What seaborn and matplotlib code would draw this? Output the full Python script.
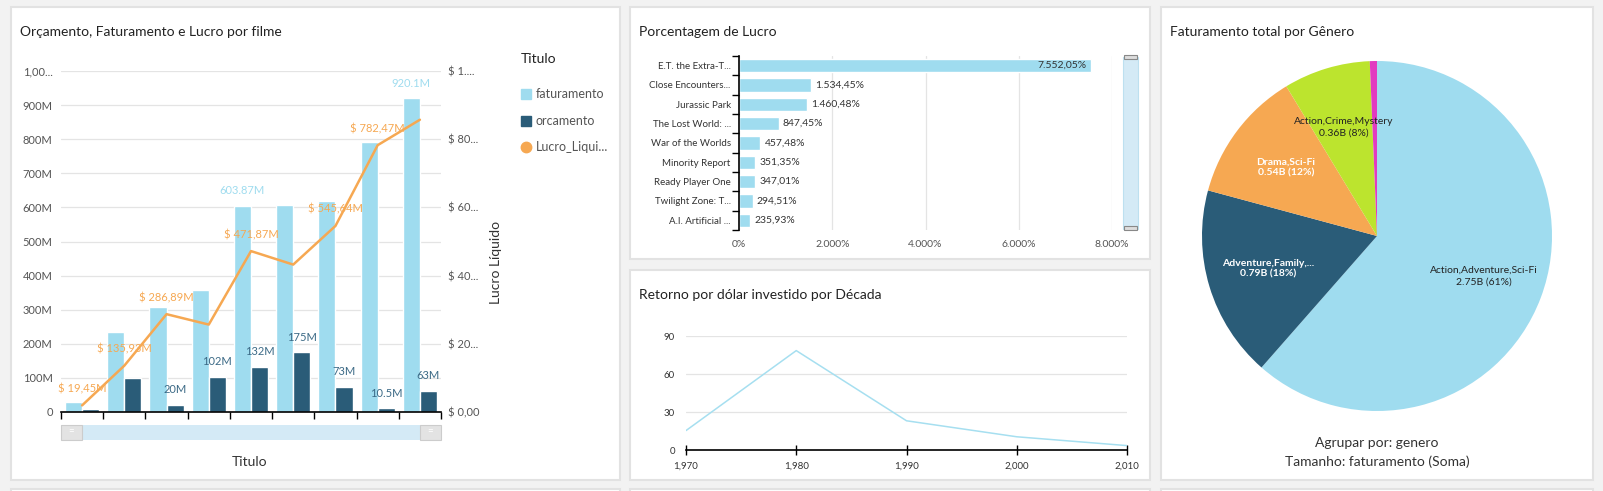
import matplotlib.pyplot as plt
import seaborn as sns
import numpy as np
import pandas as pd
from matplotlib.patches import Rectangle

W, H = 1603, 491

# --- dados (valores em milhoes de dolares) ---
titulos = ['Twilight Zone: The Movie', 'A.I. Artificial Intelligence',
           'Close Encounters of the Third Kind', 'Minority Report',
           'War of the Worlds', 'Ready Player One',
           'The Lost World: Jurassic Park', 'E.T. the Extra-Terrestrial',
           'Jurassic Park']
faturamento = [29.45, 235.93, 306.89, 358.37, 603.87, 607.27, 618.64, 792.97, 920.1]
orcamento = [10, 100, 20, 102, 132, 175, 73, 10.5, 63]
lucro_liquido = [19.45, 135.93, 286.89, 256.37, 471.87, 432.27, 545.64, 782.47, 857.1]
# rotulos que o painel mostra (os outros ficam ocultos por sobreposicao)
mostra_fat = [4, 8]
mostra_orc = [2, 3, 4, 5, 6, 7, 8]
mostra_lucro = [0, 1, 2, 4, 6, 7]

filmes_pct = ['E.T. the Extra-T...', 'Close Encounters...', 'Jurassic Park',
              'The Lost World: ...', 'War of the Worlds', 'Minority Report',
              'Ready Player One', 'Twilight Zone: T...', 'A.I. Artificial ...']
pct_lucro = [7552.05, 1534.45, 1460.48, 847.45, 457.48, 351.35, 347.01, 294.51, 235.93]

decadas = [1970, 1980, 1990, 2000, 2010]
retorno = [15.34, 78.47, 23.07, 10.44, 3.47]

generos = ['Action,Adventure,Sci-Fi', 'Adventure,Family,...', 'Drama,Sci-Fi',
           'Action,Crime,Mystery', 'Fantasy,Horror,Sci-Fi']
fat_genero = [2749.88, 792.97, 542.82, 358.37, 29.45]

C_LIGHT = '#9fdcef'
C_DARK = '#2a5c78'
C_ORANGE = '#f6a852'
C_LIME = '#bce42e'
C_PINK = '#e23bc0'
TXT = '#222222'
TICK = '#555555'

sns.set_theme(style='white')
plt.rcParams['font.family'] = ['Lato', 'DejaVu Sans']


def rect(x0, y0, x1, y1):
    return [x0 / W, 1 - y1 / H, (x1 - x0) / W, (y1 - y0) / H]


def fig_rect(fig, x0, y0, x1, y1, **kw):
    fig.add_artist(Rectangle((x0 / W, 1 - y1 / H), (x1 - x0) / W, (y1 - y0) / H,
                             transform=fig.transFigure, **kw))


def fig_text(fig, x, y, s, **kw):
    fig.text(x / W, 1 - y / H, s, **kw)


def br(v, dec=2):
    s = f"{v:,.{dec}f}"
    return s.replace(',', '#').replace('.', ',').replace('#', '.')


fig = plt.figure(figsize=(W / 100, H / 100), dpi=100)
fig.patch.set_facecolor('#f2f2f2')

# paineis
for p in [(11, 7, 620, 480), (630, 7, 1150, 259), (630, 270, 1150, 480),
          (1161, 7, 1593, 480), (11, 489, 620, 530), (630, 489, 1150, 530),
          (1161, 489, 1593, 530)]:
    fig_rect(fig, *p, facecolor='white', edgecolor='#e2e2e2', lw=1.5, zorder=0)

# ---------------- Painel 1: barras + linha ----------------
ax1 = fig.add_axes(rect(61, 71, 441, 412))
df1 = pd.DataFrame({'Titulo': titulos * 2,
                    'medida': ['faturamento'] * 9 + ['orcamento'] * 9,
                    'valor': faturamento + orcamento})
sns.barplot(data=df1, x='Titulo', y='valor', hue='medida', order=titulos,
            palette=[C_LIGHT, C_DARK], saturation=1, width=0.81, ax=ax1, legend=False)
ax1.set_xlim(-0.5, 8.5)
ax1.set_ylim(0, 1000)
ax1.set_yticks(range(0, 1001, 100))
ax1.set_yticklabels(['0'] + [f'{v}M' for v in range(100, 1000, 100)] + ['1,00...'])
ax1.set_xticks(np.arange(-0.5, 9, 1))
ax1.set_xticklabels([])
ax1.set_xlabel('')
ax1.set_ylabel('')
ax1.grid(axis='y', color='#e4e4e4', lw=0.9)
ax1.set_axisbelow(True)
for s in ['top', 'left', 'right']:
    ax1.spines[s].set_visible(False)
ax1.spines['bottom'].set_color('black')
ax1.spines['bottom'].set_linewidth(1.2)
ax1.tick_params(axis='x', direction='out', length=5, width=1, color='black', bottom=True)
ax1.tick_params(axis='y', length=0, pad=6, labelsize=8, labelcolor=TICK)

ax2 = ax1.twinx()
sns.lineplot(x=np.arange(9), y=lucro_liquido, ax=ax2, color=C_ORANGE, lw=1.8)
ax2.set_ylim(0, 1000)
ax2.set_xlim(-0.5, 8.5)
ax2.set_yticks(range(0, 1001, 200))
ax2.set_yticklabels(['$ 0,00', '$ 20...', '$ 40...', '$ 60...', '$ 80...', '$ 1....'])
ax2.tick_params(axis='y', length=0, pad=5, labelsize=8, labelcolor=TICK)
for s in ['top', 'left', 'right', 'bottom']:
    ax2.spines[s].set_visible(False)
ax2.set_ylabel('')

bw = 0.81 / 2
for i in mostra_fat:
    ax1.annotate(f'{faturamento[i]:g}M', (i - bw / 2, faturamento[i]), xytext=(0, 7),
                 textcoords='offset points', ha='center', va='bottom', fontsize=8, color=C_LIGHT)
for i in mostra_orc:
    ax1.annotate(f'{orcamento[i]:g}M', (i + bw / 2, orcamento[i]), xytext=(0, 7),
                 textcoords='offset points', ha='center', va='bottom', fontsize=8, color='#3c6a86')
for i in mostra_lucro:
    ax2.annotate(f'$ {br(lucro_liquido[i])}M', (i, lucro_liquido[i]), xytext=(0, 8),
                 textcoords='offset points', ha='center', va='bottom', fontsize=8, color=C_ORANGE)

fig_text(fig, 20, 32, 'Orçamento, Faturamento e Lucro por filme', fontsize=10, color=TXT, va='center')
fig_text(fig, 250, 462, 'Titulo', fontsize=10, color='#333333', ha='center', va='center')
fig_text(fig, 496, 262, 'Lucro Líquido', fontsize=10, color='#333333', ha='center', va='center',
         rotation=90)

# barra de rolagem
fig_rect(fig, 61, 425, 441, 440, facecolor='#d4eaf6', edgecolor='none')
for x0 in (61, 420):
    fig_rect(fig, x0, 425, x0 + 21, 440, facecolor='#e3e3e3', edgecolor='#cccccc', lw=0.8)
    fig_text(fig, x0 + 10.5, 432, '=', fontsize=7, color='white', ha='center', va='center')

# legenda
fig_text(fig, 521, 59, 'Titulo', fontsize=10, color=TXT, va='center')
leg_items = [('faturamento', C_LIGHT, 's', 94), ('orcamento', C_DARK, 's', 121),
             ('Lucro_Liqui...', C_ORANGE, 'o', 147)]
for nome, cor, mk, y in leg_items:
    fig.lines.append(plt.Line2D([526 / W], [1 - y / H], marker=mk, ms=7.5, color=cor, ls='',
                                transform=fig.transFigure))
    fig_text(fig, 536, y, nome, fontsize=9, color=TICK, va='center')

# ---------------- Painel 2: porcentagem de lucro ----------------
ax3 = fig.add_axes(rect(739, 56, 1112, 230))
sns.barplot(x=pct_lucro, y=filmes_pct, orient='h', color=C_LIGHT, saturation=1,
            width=0.68, ax=ax3)
ax3.set_xlim(0, 8000)
ax3.set_ylim(8.5, -0.5)
ax3.set_xticks(range(0, 8001, 2000))
ax3.set_xticklabels(['0%'] + [f'{br(v, 0)}%' for v in range(2000, 8001, 2000)])
ax3.set_yticks(np.arange(-0.5, 9, 1), minor=True)
ax3.grid(axis='x', color='#e4e4e4', lw=0.9)
ax3.set_axisbelow(True)
for s in ['top', 'right', 'bottom']:
    ax3.spines[s].set_visible(False)
ax3.spines['left'].set_color('black')
ax3.spines['left'].set_linewidth(1.2)
ax3.tick_params(axis='y', which='major', length=0, pad=6, labelsize=7, labelcolor='#333333')
ax3.tick_params(axis='y', which='minor', length=5, width=1, color='black', left=True)
ax3.tick_params(axis='x', length=0, pad=7, labelsize=7.5, labelcolor=TICK)
for i, v in enumerate(pct_lucro):
    if v > 6000:
        ax3.annotate(f'{br(v)}%', (v, i), xytext=(-3, 0), textcoords='offset points',
                     ha='right', va='center', fontsize=7.5, color='#333333')
    else:
        ax3.annotate(f'{br(v)}%', (v, i), xytext=(3, 0), textcoords='offset points',
                     ha='left', va='center', fontsize=7.5, color='#333333')
fig_text(fig, 639, 32, 'Porcentagem de Lucro', fontsize=10, color=TXT, va='center')

fig_rect(fig, 1123, 57, 1138, 229, facecolor='#d4eaf6', edgecolor='#bde0f0', lw=0.8)
for y0 in (55, 226):
    fig_rect(fig, 1124, y0, 1137, y0 + 4, facecolor='#dddddd', edgecolor='#888888', lw=0.8)

# ---------------- Painel 3: retorno por decada ----------------
ax4 = fig.add_axes(rect(686, 336, 1127, 450))
sns.lineplot(x=decadas, y=retorno, color='#a6dff0', lw=1.1, ax=ax4)
ax4.set_xlim(1970, 2010)
ax4.set_ylim(0, 90)
ax4.set_yticks([0, 30, 60, 90])
ax4.set_xticks(decadas)
ax4.set_xticklabels([f'{d:,}' for d in decadas])
ax4.grid(axis='y', color='#e4e4e4', lw=0.9)
ax4.set_axisbelow(True)
for s in ['top', 'left', 'right']:
    ax4.spines[s].set_visible(False)
ax4.spines['bottom'].set_color('black')
ax4.spines['bottom'].set_linewidth(1.2)
ax4.tick_params(axis='x', direction='inout', length=7, width=1, color='black', bottom=True,
                pad=5, labelsize=7, labelcolor='#333333')
ax4.tick_params(axis='y', length=0, pad=8, labelsize=7, labelcolor='#333333')
fig_text(fig, 639, 295, 'Retorno por dólar investido por Década', fontsize=10, color=TXT, va='center')

# ---------------- Painel 4: pizza por genero ----------------
ax5 = fig.add_axes(rect(1202, 61, 1552, 411))
wedges, _ = ax5.pie(fat_genero, colors=[C_LIGHT, C_DARK, C_ORANGE, C_LIME, C_PINK],
                    startangle=90, counterclock=False, radius=1, wedgeprops=dict(linewidth=0))
ax5.set_xlim(-1, 1)
ax5.set_ylim(-1, 1)
ax5.set_aspect('equal')
total = sum(fat_genero)
label_style = [('#222222', 'normal'), ('white', 'bold'), ('white', 'bold'), ('#222222', 'normal')]
for w, nome, v, (cor, peso) in zip(wedges, generos, fat_genero, label_style):
    ang = np.deg2rad((w.theta1 + w.theta2) / 2)
    ax5.text(0.65 * np.cos(ang), 0.65 * np.sin(ang),
             f'{nome}\n{v / 1000:.2f}B ({v / total * 100:.0f}%)',
             ha='center', va='center', fontsize=7.5, color=cor, fontweight=peso, linespacing=1.3)
fig_text(fig, 1170, 32, 'Faturamento total por Gênero', fontsize=10, color=TXT, va='center')
fig_text(fig, 1377, 443, 'Agrupar por: genero', fontsize=10, color='#333333', ha='center', va='center')
fig_text(fig, 1377, 462, 'Tamanho: faturamento (Soma)', fontsize=10, color='#333333',
         ha='center', va='center')

fig.savefig('out.png', dpi=100, facecolor=fig.get_facecolor())
